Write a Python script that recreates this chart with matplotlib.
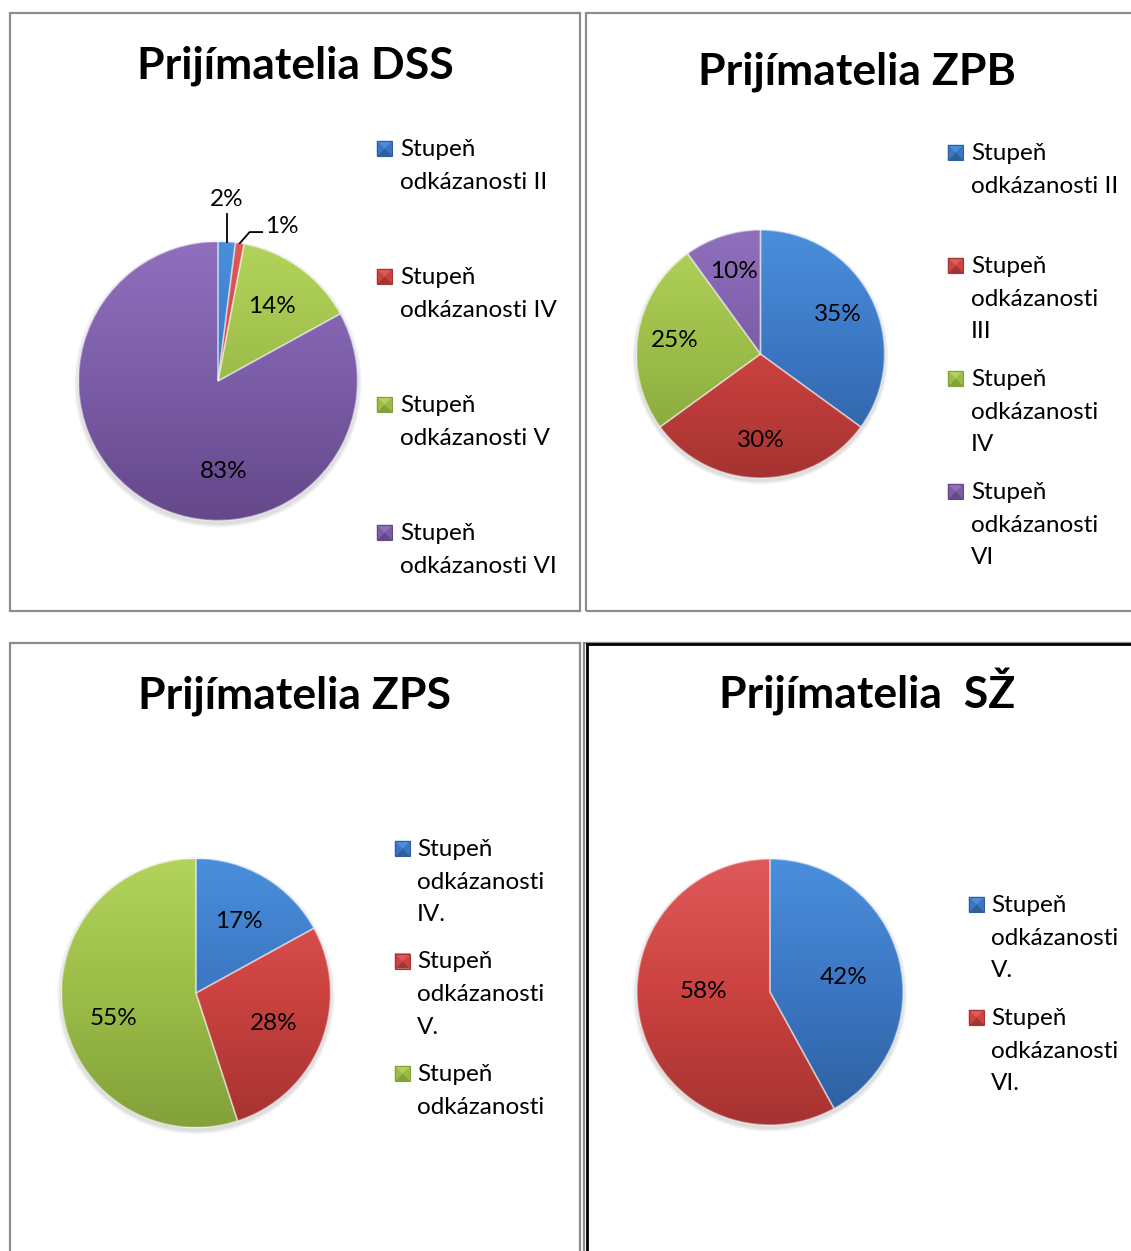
import numpy as np
import matplotlib
matplotlib.use("Agg")
import matplotlib.pyplot as plt
from matplotlib.colors import LinearSegmentedColormap, to_rgb
from matplotlib.patches import Rectangle, Circle, Polygon

plt.rcParams['font.family'] = ['Lato', 'DejaVu Sans']

# ---------------- data ----------------
dss_title = "Prijímatelia DSS"
dss_labels = ["Stupeň odkázanosti II", "Stupeň odkázanosti IV",
              "Stupeň odkázanosti V", "Stupeň odkázanosti VI"]
dss_values = [2, 1, 14, 83]

zpb_title = "Prijímatelia ZPB"
zpb_labels = ["Stupeň odkázanosti II", "Stupeň odkázanosti III",
              "Stupeň odkázanosti IV", "Stupeň odkázanosti VI"]
zpb_values = [35, 30, 25, 10]

zps_title = "Prijímatelia ZPS"
zps_labels = ["Stupeň odkázanosti IV.", "Stupeň odkázanosti V.",
              "Stupeň odkázanosti VI."]
zps_values = [17, 28, 55]

sz_title = "Prijímatelia  SŽ"
sz_labels = ["Stupeň odkázanosti V.", "Stupeň odkázanosti VI."]
sz_values = [42, 58]

# ---------------- style ----------------
W, H = 1131, 1251
BLUE = ("#4a8fdc", "#3b76c2", "#2e5e9e")
RED = ("#e0595a", "#cb4240", "#a53331")
GREEN = ("#b2d35b", "#9bbd48", "#82a13a")
PURPLE = ("#9070bd", "#7b5ca7", "#644889")
TITLE_FS = 32
LEG_FS = 17.5
LBL_FS = 17.5

fig = plt.figure(figsize=(W / 100, H / 100), dpi=100)
fig.patch.set_facecolor("white")
renderer = fig.canvas.get_renderer()


def fx(x):
    return x / W


def fy(y):
    return 1 - y / H


def text_width(s, fs):
    t = fig.text(0, 0, s, fontsize=fs)
    w = t.get_window_extent(renderer=renderer).width
    t.remove()
    return w


def wrap_px(label, max_w, fs):
    words = label.split()
    lines = []
    cur = ""
    for wd in words:
        cand = wd if not cur else cur + " " + wd
        if cur and text_width(cand, fs) > max_w:
            lines.append(cur)
            cur = wd
        else:
            cur = cand
    if cur:
        lines.append(cur)
    return lines


def panel_border(x0, y0, x1, y1, color="#8c8c8c", lw=1.6):
    fig.patches.append(Rectangle((fx(x0), fy(y1)), fx(x1) - fx(x0), fy(y0) - fy(y1),
                                 transform=fig.transFigure, fill=False,
                                 edgecolor=color, linewidth=lw, zorder=0))


def draw_pie(cx, cy, r, values, colors, pctdist):
    ax = fig.add_axes([fx(cx - r), fy(cy + r), fx(2 * r), fy(0) - fy(2 * r)])
    for k in range(3):
        ax.add_patch(Circle((0.0, -0.02), 1.0 + 0.01 * (k + 1), color="black",
                            alpha=0.045, lw=0, zorder=0, clip_on=False))
    wedges, _ = ax.pie(values, colors=[c[1] for c in colors], startangle=90,
                       counterclock=False, radius=1.0,
                       wedgeprops=dict(linewidth=1.2, edgecolor=(1, 1, 1, 0.4)))
    for w, c in zip(wedges, colors):
        cmap = LinearSegmentedColormap.from_list("g", [to_rgb(c[0]), to_rgb(c[1]), to_rgb(c[2])])
        grad = np.linspace(0, 1, 256).reshape(-1, 1)
        im = ax.imshow(grad, cmap=cmap, extent=[-1, 1, -1, 1], origin="upper",
                       aspect="auto", zorder=2, interpolation="bilinear")
        im.set_clip_path(w)
        w.set_facecolor("none")
        w.set_zorder(3)
    ax.set_xlim(-1, 1)
    ax.set_ylim(-1, 1)
    ax.set_aspect("auto")
    ax.axis("off")
    texts = []
    total = float(sum(values))
    start = 90.0
    mids = []
    for v in values:
        span = 360.0 * v / total
        mids.append(start - span / 2)
        start -= span
    for v, m in zip(values, mids):
        t = ax.text(pctdist * np.cos(np.radians(m)), pctdist * np.sin(np.radians(m)),
                    f"{v}%", ha="center", va="center", fontsize=LBL_FS,
                    color="black", zorder=5)
        texts.append(t)
    return ax, wedges, texts, mids


def legend_marker(x, yb, c, sz=15):
    # bevelled square: four triangles around a centre
    x0, x1 = fx(x), fx(x + sz)
    y0, y1 = fy(yb), fy(yb - sz)
    xc, yc = (x0 + x1) / 2, (y0 + y1) / 2
    tris = [([(x0, y1), (x1, y1), (xc, yc)], c[0]),
            ([(x1, y1), (x1, y0), (xc, yc)], c[1]),
            ([(x0, y0), (x1, y0), (xc, yc)], c[2]),
            ([(x0, y1), (x0, y0), (xc, yc)], c[1])]
    for pts, col in tris:
        fig.patches.append(Polygon(pts, closed=True, transform=fig.transFigure,
                                   facecolor=col, edgecolor=col, lw=0.3, zorder=3))
    fig.patches.append(Rectangle((x0, y0), x1 - x0, y1 - y0, transform=fig.transFigure,
                                 fill=False, edgecolor=c[2], lw=0.8, zorder=4))


def draw_legend(x_marker, x_text, y_base0, labels, colors, max_w, entry_pitch,
                line_pitch=32.7, y_limit=None):
    for i, (lab, c) in enumerate(zip(labels, colors)):
        yb = y_base0 + i * entry_pitch
        lines = wrap_px(lab, max_w, LEG_FS)
        legend_marker(x_marker, yb, c)
        for j, ln in enumerate(lines):
            y = yb + j * line_pitch
            if y_limit is not None and y > y_limit:
                break
            fig.text(fx(x_text), fy(y), ln, ha="left", va="baseline",
                     fontsize=LEG_FS, color="black")


# ---------- borders ----------
panel_border(10, 13, 580, 611)
panel_border(586, 13, 1140, 611)
panel_border(10, 643, 580, 1260)
panel_border(584, 643, 1140, 1260)
panel_border(587, 644, 1140, 1260, color="black", lw=2.0)

# ---------- DSS ----------
fig.text(fx(295), fy(79), dss_title, ha="center", va="baseline",
         fontsize=TITLE_FS, fontweight="bold")
ax1, w1, t1, m1 = draw_pie(218, 381, 139.5, dss_values, [BLUE, RED, GREEN, PURPLE], 0.66)
for idx in (0, 1):
    t1[idx].set_visible(False)
a0 = np.radians(m1[0])
ax1.plot([np.cos(a0), np.cos(a0)], [np.sin(a0), 1.2], color="black", lw=1.3,
         clip_on=False, zorder=6)
ax1.text(np.cos(a0), 1.30, f"{dss_values[0]}%", ha="center", va="center",
         fontsize=LBL_FS, clip_on=False)
a1 = np.radians(m1[1])
ex, ey = np.cos(a1), np.sin(a1)
ax1.plot([ex, ex + 0.07, ex + 0.16], [ey, ey + 0.08, ey + 0.08], color="black",
         lw=1.3, clip_on=False, zorder=6)
ax1.text(ex + 0.18, ey + 0.075, f"{dss_values[1]}%", ha="left", va="baseline",
         fontsize=LBL_FS, clip_on=False)
t1[3].set_position((0.04, -0.65))
draw_legend(377, 400, 156, dss_labels, [BLUE, RED, GREEN, PURPLE], 172, 128)

# ---------- ZPB ----------
fig.text(fx(857), fy(84), zpb_title, ha="center", va="baseline",
         fontsize=TITLE_FS, fontweight="bold")
draw_pie(760.5, 354, 124, zpb_values, [BLUE, RED, GREEN, PURPLE], 0.70)
draw_legend(948, 971, 160, zpb_labels, [BLUE, RED, GREEN, PURPLE], 151, 113)

# ---------- ZPS ----------
fig.text(fx(295), fy(709), zps_title, ha="center", va="baseline",
         fontsize=TITLE_FS, fontweight="bold")
ax3, w3, t3, m3 = draw_pie(196, 993, 134.5, zps_values, [BLUE, RED, GREEN], 0.62)
t3[2].set_position((-0.61, -0.19))
draw_legend(395, 417, 856, zps_labels, [BLUE, RED, GREEN], 140, 112.5, y_limit=1120)

# ---------- SŽ ----------
fig.text(fx(867), fy(709), sz_title, ha="center", va="baseline",
         fontsize=TITLE_FS, fontweight="bold")
ax4, w4, t4, m4 = draw_pie(770, 992, 133, sz_values, [BLUE, RED], 0.56)
t4[0].set_position((0.55, 0.11))
t4[1].set_position((-0.5, 0.0))
draw_legend(969, 991, 912, sz_labels, [BLUE, RED], 140, 113)

fig.savefig("out.png", dpi=100, facecolor="white")
